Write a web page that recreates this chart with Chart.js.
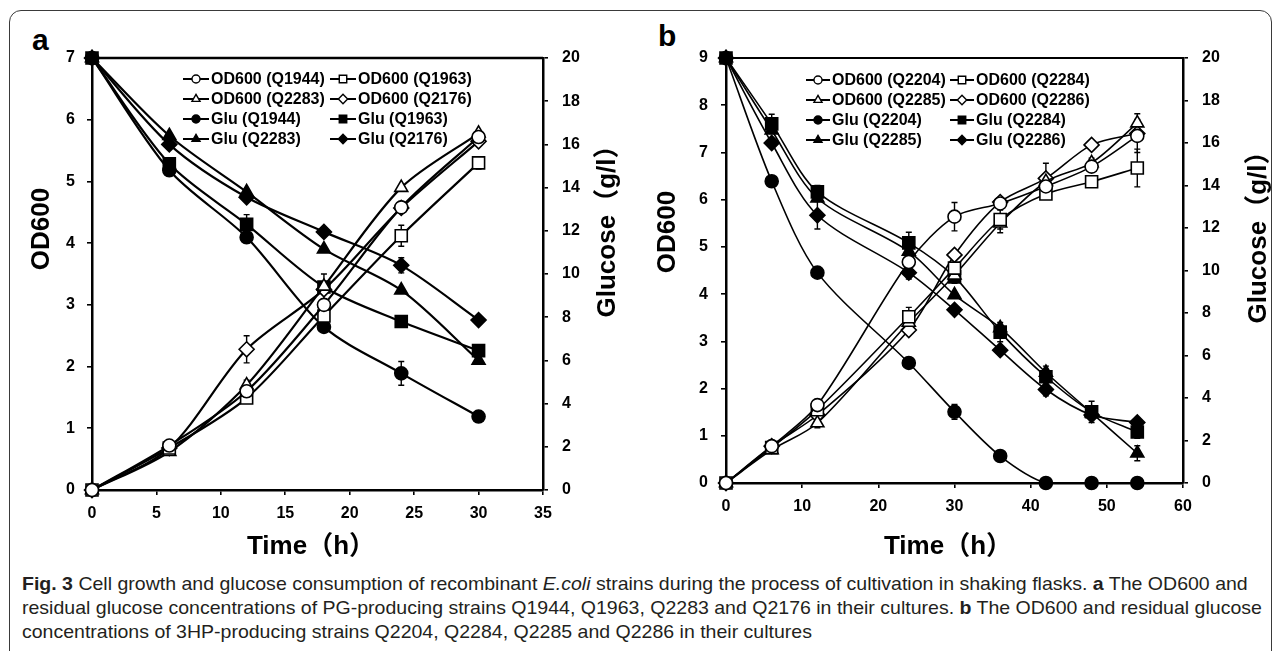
<!DOCTYPE html>
<html>
<head>
<meta charset="utf-8">
<script src="https://cdn.jsdelivr.net/npm/chart.js@4.4.0/dist/chart.umd.min.js"></script>
<style>
  body { margin: 0; background: #fff; width: 1281px; height: 651px; overflow: hidden; position: relative;
         font-family: 'Liberation Sans', Arial, sans-serif; }
  #frame { position: absolute; left: 9px; top: 10px; width: 1261px; height: 680px;
           border: 1.5px solid #3a3a3a; border-radius: 12px; }
  .panel { position: absolute; top: 20px; height: 545px; }
  #wa { left: 20px; width: 620px; }
  #wb { left: 650px; width: 625px; }
  .letter { position: absolute; font: bold 30px 'Liberation Sans', Arial, sans-serif; color: #000; }
  #caption { position: absolute; left: 22px; top: 572px; font-family: 'Liberation Sans Narrow', 'Liberation Sans', sans-serif;
             font-size: 19px; line-height: 24px; color: #231f20; }
  #caption div { white-space: nowrap; transform-origin: left center; }
</style>
</head>
<body>
<div id="frame"></div>
<div class="letter" style="left:32px;top:23px">a</div>
<div class="letter" style="left:658px;top:19px">b</div>
<div class="panel" id="wa"><canvas id="chartA"></canvas></div>
<div class="panel" id="wb"><canvas id="chartB"></canvas></div>
<div id="caption">
  <div><b>Fig. 3</b> Cell growth and glucose consumption of recombinant <i>E.coli</i> strains during the process of cultivation in shaking flasks. <b>a</b> The OD600 and</div>
  <div>residual glucose concentrations of PG-producing strains Q1944, Q1963, Q2283 and Q2176 in their cultures. <b>b</b> The OD600 and residual glucose</div>
  <div>concentrations of 3HP-producing strains Q2204, Q2284, Q2285 and Q2286 in their cultures</div>
</div>
<script>
// panel a - PG-producing strains
var timesA = [0, 6, 12, 18, 24, 30];
var odQ1944 = [0, 0.72, 1.6, 3.0, 4.58, 5.72];
var odQ1963 = [0, 0.68, 1.49, 2.82, 4.12, 5.3];
var odQ2283 = [0, 0.62, 1.7, 3.3, 4.9, 5.78];
var odQ2176 = [0, 0.68, 2.28, 3.25, 4.57, 5.65];
var gluQ1944 = [20, 14.8, 11.7, 7.55, 5.4, 3.4];
var gluQ1963 = [20, 15.1, 12.3, 9.4, 7.8, 6.45];
var gluQ2283 = [20, 16.4, 13.8, 11.15, 9.25, 6.0];
var gluQ2176 = [20, 16.0, 13.55, 11.95, 10.4, 7.87];
var odErrQ1944 = [0, 0, 0.05, 0.1, 0, 0];
var odErrQ1963 = [0, 0, 0.08, 0.1, 0.17, 0.1];
var odErrQ2283 = [0, 0, 0.08, 0, 0, 0];
var odErrQ2176 = [0, 0, 0.22, 0, 0, 0];
var gluErrQ1944 = [0, 0, 0, 0, 0.55, 0];
var gluErrQ1963 = [0, 0, 0.45, 0.6, 0, 0];
var gluErrQ2283 = [0, 0, 0, 0, 0, 0];
var gluErrQ2176 = [0, 0, 0, 0, 0.35, 0];

// panel b - 3HP-producing strains
var timesB = [0, 6, 12, 24, 30, 36, 42, 48, 54];
var odQ2204 = [0, 0.78, 1.65, 4.68, 5.64, 5.92, 6.28, 6.7, 7.35];
var odQ2284 = [0, 0.75, 1.55, 3.52, 4.55, 5.58, 6.12, 6.38, 6.67];
var odQ2285 = [0, 0.7, 1.27, 3.4, 4.4, 5.5, 6.38, 6.78, 7.62];
var odQ2286 = [0, 0.78, 1.44, 3.24, 4.83, 5.95, 6.45, 7.16, 7.4];
var gluQ2204 = [20, 14.2, 9.9, 5.65, 3.35, 1.27, 0, 0, 0];
var gluQ2284 = [20, 16.9, 13.7, 11.3, 9.7, 7.1, 5.0, 3.35, 2.4];
var gluQ2285 = [20, 16.6, 13.4, 10.9, 8.85, 7.3, 5.2, 3.3, 1.4];
var gluQ2286 = [20, 16.0, 12.6, 9.9, 8.15, 6.25, 4.4, 3.2, 2.85];
var odErrQ2204 = [0, 0, 0.05, 0.1, 0.3, 0.05, 0.1, 0.1, 0.35];
var odErrQ2284 = [0, 0, 0.05, 0.2, 0.1, 0.2, 0.1, 0.05, 0.4];
var odErrQ2285 = [0, 0, 0.1, 0.1, 0.1, 0.2, 0.15, 0.1, 0.2];
var odErrQ2286 = [0, 0, 0, 0.05, 0.05, 0.05, 0.32, 0.05, 0.1];
var gluErrQ2204 = [0, 0, 0, 0.2, 0.35, 0, 0, 0, 0];
var gluErrQ2284 = [0, 0.45, 0.3, 0.5, 0.3, 0.45, 0.5, 0.5, 0.3];
var gluErrQ2285 = [0, 0, 0, 0, 0, 0, 0, 0, 0.35];
var gluErrQ2286 = [0, 0, 0.65, 0.3, 0, 0, 0.3, 0, 0];

var FONT = "'Liberation Sans', 'Noto Sans CJK SC', sans-serif";
Chart.defaults.font.family = FONT;
Chart.defaults.color = '#000';

function pts(times, vals) {
  return times.map(function (t, i) { return { x: t, y: vals[i] }; });
}

function series(label, times, vals, err, style, open, axis, r, lw) {
  return {
    label: label,
    data: pts(times, vals),
    err: err,
    yAxisID: axis,
    borderColor: '#000',
    borderWidth: lw,
    tension: 0.3,
    clip: false,
    pointStyle: style,
    pointRadius: r,
    pointHoverRadius: r,
    pointBorderWidth: 1.6,
    pointBorderColor: '#000',
    pointBackgroundColor: open ? '#fff' : '#000',
    fill: false
  };
}

var figPlugin = {
  id: 'fig',
  beforeDatasetsDraw: function (chart) {
    // error bars
    var ctx = chart.ctx;
    ctx.save();
    ctx.strokeStyle = '#000';
    ctx.lineWidth = 1.4;
    chart.data.datasets.forEach(function (ds) {
      var xs = chart.scales.x, ys = chart.scales[ds.yAxisID];
      ds.data.forEach(function (p, j) {
        var e = ds.err[j];
        if (!e) return;
        var px = xs.getPixelForValue(p.x);
        var y1 = ys.getPixelForValue(p.y + e), y2 = ys.getPixelForValue(p.y - e);
        ctx.beginPath();
        ctx.moveTo(px, y1); ctx.lineTo(px, y2);
        ctx.moveTo(px - 3, y1); ctx.lineTo(px + 3, y1);
        ctx.moveTo(px - 3, y2); ctx.lineTo(px + 3, y2);
        ctx.stroke();
      });
    });
    ctx.restore();
  },
  afterDraw: function (chart) {
    var ctx = chart.ctx, a = chart.chartArea, o = chart.options.plugins.fig;
    ctx.save();
    // top frame line
    ctx.strokeStyle = '#000';
    ctx.lineWidth = o.axisWidth;
    ctx.beginPath();
    ctx.moveTo(a.left, a.top);
    ctx.lineTo(a.right, a.top);
    ctx.stroke();

    // legend, two columns inside the plot
    ctx.font = 'bold 16px ' + FONT;
    ctx.textBaseline = 'middle';
    ctx.textAlign = 'left';
    chart.data.datasets.forEach(function (ds, i) {
      var col = i % 2, row = Math.floor(i / 2);
      var x0 = a.left + o.legendCols[col];
      var y = a.top + o.legendTop + row * 20;
      ctx.strokeStyle = '#000';
      ctx.lineWidth = 2;
      ctx.beginPath();
      ctx.moveTo(x0, y); ctx.lineTo(x0 + o.sample, y);
      ctx.stroke();
      ctx.fillStyle = ds.pointBackgroundColor;
      ctx.lineWidth = 1.4;
      Chart.helpers.drawPoint(ctx, { pointStyle: ds.pointStyle, radius: ds.pointRadius * 0.62, borderWidth: 1.4, rotation: 0 },
        x0 + o.sample / 2, y);
      ctx.fillStyle = '#000';
      ctx.fillText(ds.label, x0 + o.sample + 2, y + 1);
    });

    // axis titles
    ctx.font = 'bold 26px ' + FONT;
    ctx.textAlign = 'center';
    ctx.fillStyle = '#000';
    o.titles.forEach(function (t) {
      ctx.save();
      ctx.translate(t.x, t.y);
      ctx.rotate(t.rot);
      ctx.fillText(t.text, 0, 0);
      ctx.restore();
    });
    ctx.restore();
  }
};

function axisX(max, step, h) {
  return {
    type: 'linear', position: 'bottom', min: 0, max: max,
    ticks: { stepSize: step, padding: 9, font: { size: 16, weight: 'bold' }, color: '#000' },
    grid: { drawOnChartArea: false, tickLength: 5, color: '#000', lineWidth: 1.6 },
    border: { color: '#000', width: 2.5 },
    afterFit: function (s) { s.height = h; }
  };
}
function axisY(pos, max, step, w, pad) {
  return {
    type: 'linear', position: pos, min: 0, max: max,
    ticks: { stepSize: step, padding: pad, font: { size: 16, weight: 'bold' }, color: '#000' },
    grid: { drawOnChartArea: false, tickLength: 5, color: '#000', lineWidth: 1.6 },
    border: { color: '#000', width: 2.5 },
    afterFit: function (s) { s.width = w; }
  };
}

function makeChart(id, datasets, scales, fig) {
  return new Chart(document.getElementById(id).getContext('2d'), {
    type: 'line',
    data: { datasets: datasets },
    options: {
      responsive: true,
      maintainAspectRatio: false,
      animation: false,
      layout: { padding: { top: 38, left: 0, right: 0, bottom: 0 } },
      scales: scales,
      plugins: { legend: { display: false }, tooltip: { enabled: false }, fig: fig }
    },
    plugins: [figPlugin]
  });
}

var dsA = [
  series('OD600 (Q1944)', timesA, odQ1944, odErrQ1944, 'circle', true, 'y', 6.5, 2.2),
  series('OD600 (Q1963)', timesA, odQ1963, odErrQ1963, 'rect', true, 'y', 8.5, 2.2),
  series('OD600 (Q2283)', timesA, odQ2283, odErrQ2283, 'triangle', true, 'y', 7.5, 2.2),
  series('OD600 (Q2176)', timesA, odQ2176, odErrQ2176, 'rectRot', true, 'y', 7.5, 2.2),
  series('Glu (Q1944)', timesA, gluQ1944, gluErrQ1944, 'circle', false, 'y2', 6.5, 2.2),
  series('Glu (Q1963)', timesA, gluQ1963, gluErrQ1963, 'rect', false, 'y2', 8.5, 2.2),
  series('Glu (Q2283)', timesA, gluQ2283, gluErrQ2283, 'triangle', false, 'y2', 7.5, 2.2),
  series('Glu (Q2176)', timesA, gluQ2176, gluErrQ2176, 'rectRot', false, 'y2', 7.5, 2.2)
];
var dsB = [
  series('OD600 (Q2204)', timesB, odQ2204, odErrQ2204, 'circle', true, 'y', 6.5, 1.6),
  series('OD600 (Q2284)', timesB, odQ2284, odErrQ2284, 'rect', true, 'y', 8.5, 1.6),
  series('OD600 (Q2285)', timesB, odQ2285, odErrQ2285, 'triangle', true, 'y', 7.5, 1.6),
  series('OD600 (Q2286)', timesB, odQ2286, odErrQ2286, 'rectRot', true, 'y', 7.5, 1.6),
  series('Glu (Q2204)', timesB, gluQ2204, gluErrQ2204, 'circle', false, 'y2', 6.5, 1.6),
  series('Glu (Q2284)', timesB, gluQ2284, gluErrQ2284, 'rect', false, 'y2', 8.5, 1.6),
  series('Glu (Q2285)', timesB, gluQ2285, gluErrQ2285, 'triangle', false, 'y2', 7.5, 1.6),
  series('Glu (Q2286)', timesB, gluQ2286, gluErrQ2286, 'rectRot', false, 'y2', 7.5, 1.6)
];

makeChart('chartA', dsA,
  { x: axisX(35, 5, 75), y: axisY('left', 7, 1, 72, 12), y2: axisY('right', 20, 2, 97, 14) },
  {
    axisWidth: 2.5, legendCols: [91, 238], legendTop: 21, sample: 26,
    titles: [
      { text: 'OD600', x: 22, y: 209, rot: -Math.PI / 2 },
      { text: 'Glucose（g/l）', x: 588, y: 205, rot: -Math.PI / 2 },
      { text: 'Time（h）', x: 291, y: 527, rot: 0 }
    ]
  });

makeChart('chartB', dsB,
  { x: axisX(60, 10, 82), y: axisY('left', 9, 1, 76, 13), y2: axisY('right', 20, 2, 92, 14) },
  {
    axisWidth: 2, legendCols: [80, 224], legendTop: 22, sample: 24,
    titles: [
      { text: 'OD600', x: 18, y: 212, rot: -Math.PI / 2 },
      { text: 'Glucose（g/l）', x: 609, y: 211, rot: -Math.PI / 2 },
      { text: 'Time（h）', x: 298, y: 527, rot: 0 }
    ]
  });

// stretch the caption lines to the width of the original typesetting
var lines = document.querySelectorAll('#caption div');
var k = 1240 / lines[0].scrollWidth;
lines.forEach(function (l) { l.style.transform = 'scaleX(' + k + ')'; });
</script>
</body>
</html>
